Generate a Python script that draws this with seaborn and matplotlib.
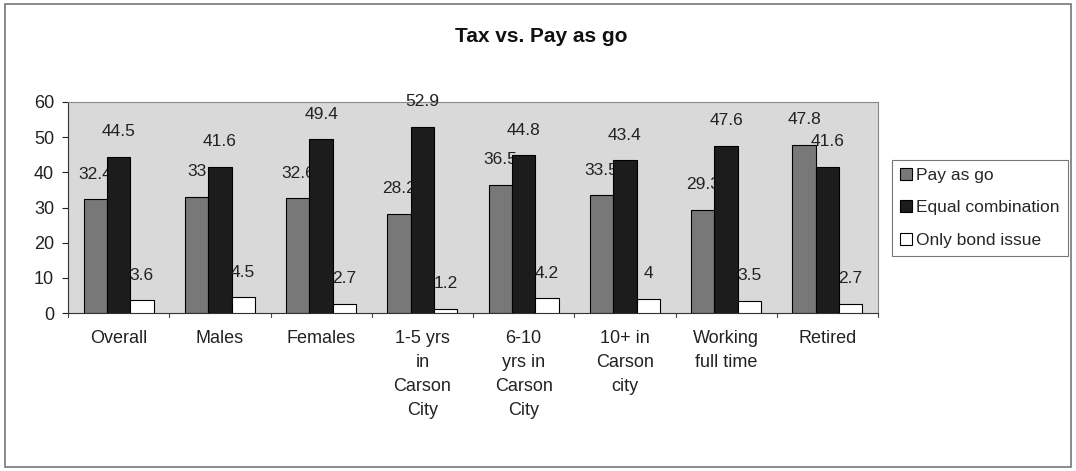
import numpy as np
import pandas as pd
import matplotlib
matplotlib.use("Agg")
import matplotlib.pyplot as plt
import seaborn as sns
from matplotlib.patches import Rectangle

#chart data
categories = ["Overall", "Males", "Females", "1-5 yrs\nin\nCarson\nCity",
              "6-10\nyrs in\nCarson\nCity", "10+ in\nCarson\ncity",
              "Working\nfull time", "Retired"]
series = ["Pay as go", "Equal combination", "Only bond issue"]
pay_as_go = [32.4, 33, 32.6, 28.2, 36.5, 33.5, 29.3, 47.8]
equal_combo = [44.5, 41.6, 49.4, 52.9, 44.8, 43.4, 47.6, 41.6]
bond_only = [3.6, 4.5, 2.7, 1.2, 4.2, 4, 3.5, 2.7]
label_text = [["32.4", "33", "32.6", "28.2", "36.5", "33.5", "29.3", "47.8"],
              ["44.5", "41.6", "49.4", "52.9", "44.8", "43.4", "47.6", "41.6"],
              ["3.6", "4.5", "2.7", "1.2", "4.2", "4", "3.5", "2.7"]]

df = pd.DataFrame({
    "cat": categories * 3,
    "series": np.repeat(series, len(categories)),
    "val": pay_as_go + equal_combo + bond_only,
})

sns.set_style("white")
plt.rcParams["font.family"] = ["Liberation Sans", "DejaVu Sans"]

fig = plt.figure(figsize=(10.76, 4.71), dpi=100)
ax = fig.add_axes([68/1076, 1-313/471, 810/1076, 211/471])
ax.set_facecolor("#d9d9d9")

sns.barplot(data=df, x="cat", y="val", hue="series", order=categories,
            hue_order=series, palette=["#787878", "#1c1c1c", "#ffffff"],
            width=0.69, edgecolor="black", linewidth=0.8, ax=ax, legend=False)

#excel style: later series cover earlier labels
for k, cont in enumerate(ax.containers):
    for j, bar in enumerate(cont):
        bar.set_zorder(2 + k)
        x = bar.get_x() + bar.get_width() / 2
        h = bar.get_height()
        ax.annotate(label_text[k][j], (x, h), xytext=(0, 18), textcoords="offset points",
                    ha="center", va="center", fontsize=12.5, color="#222222",
                    zorder=2.5 + k, annotation_clip=False)

ax.set_ylim(0, 60)
ax.set_xlim(-0.5, len(categories) - 0.5)
ax.set_yticks(range(0, 61, 10))
ax.set_xlabel("")
ax.set_ylabel("")
ax.tick_params(axis="y", labelsize=13, length=4, pad=6, left=True, colors="#222222")
ax.tick_params(axis="x", labelsize=13, length=0, pad=12, colors="#222222")
#tick marks between categories
for b in np.arange(-0.5, len(categories), 1.0):
    ax.plot([b, b], [0, -1.2], color="#444444", lw=0.8, clip_on=False)
for s in ["top", "right"]:
    ax.spines[s].set_color("#888888")
for s in ["left", "bottom"]:
    ax.spines[s].set_color("#333333")
for t in ax.get_xticklabels():
    t.set_va("top")
    t.set_linespacing(1.55)

fig.text(541/1076, 1-37/471, "Tax vs. Pay as go", ha="center", va="center",
         fontsize=15, fontweight="bold", color="#111111")

handles = [Rectangle((0, 0), 1, 1, facecolor=c, edgecolor="black", lw=0.8)
           for c in ["#787878", "#1c1c1c", "#ffffff"]]
leg = fig.legend(handles, series, loc="upper left", bbox_to_anchor=(892/1076, 1-160/471),
                 frameon=True, fancybox=False, fontsize=12.5, handlelength=0.7,
                 handleheight=0.7, handletextpad=0.25, borderpad=0.45, labelspacing=1.0,
                 borderaxespad=0)
leg.get_frame().set_edgecolor("#555555")
leg.get_frame().set_linewidth(0.8)

#outer chart border
fig.patches.append(Rectangle((5/1076, 4/471), 1066/1076, 463/471, transform=fig.transFigure,
                             fill=False, edgecolor="#777777", lw=1.2))

fig.savefig("out.png", dpi=100)
